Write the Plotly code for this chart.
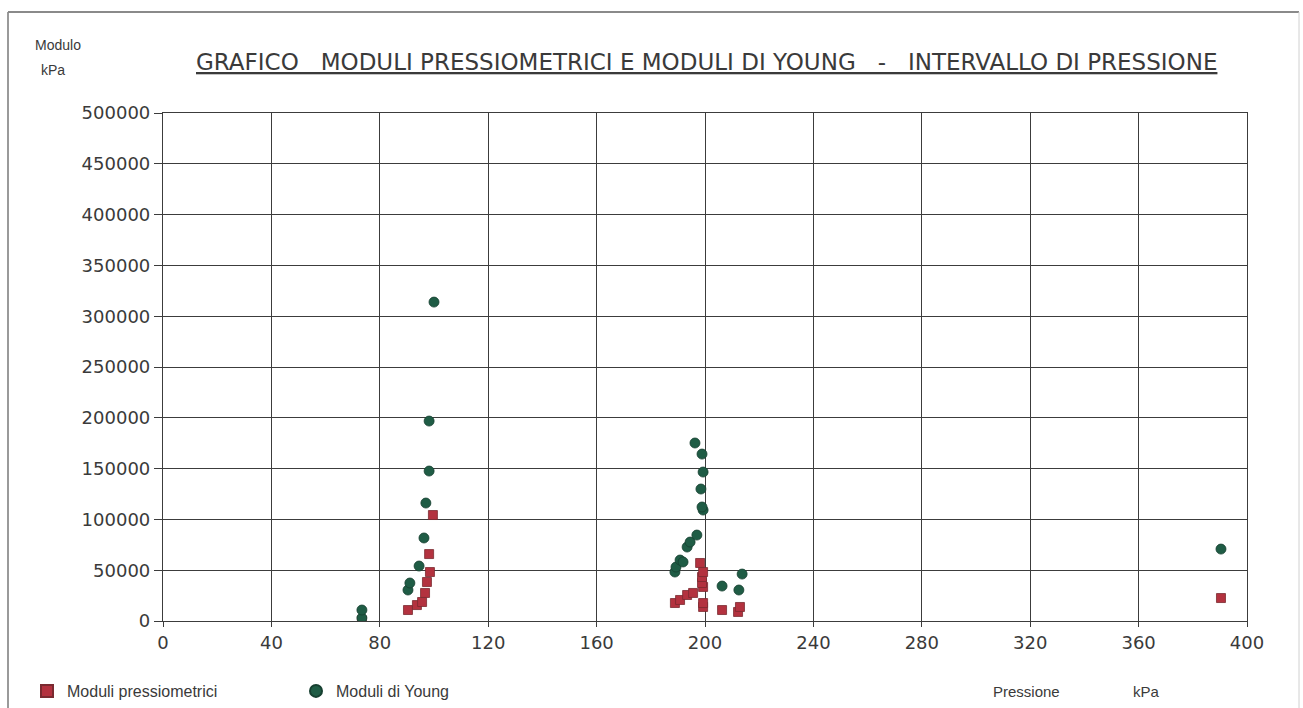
import plotly.graph_objects as go

# Moduli pressiometrici (red squares)
press_x = [73.4, 90.4, 93.7, 95.6, 96.7, 97.4, 98.5, 98.2, 99.6,
           188.9, 190.8, 193.4, 195.6, 199.3, 199.3, 199.3, 198.9, 198.9, 199.3, 198.2,
           206.3, 212.2, 212.9, 390.4]
press_y = [500, 10800, 15700, 18700, 27600, 38400, 48200, 65900, 104300,
           17700, 20700, 25600, 27600, 13800, 17700, 33500, 37400, 43300, 48200, 57100,
           10800, 8900, 13800, 22600]

# Moduli di Young (green circles)
young_x = [73.4, 73.4, 90.4, 91.1, 94.5, 96.3, 97.0, 98.2, 98.2, 100.0,
           188.9, 189.3, 190.8, 191.9, 193.4, 194.5, 197.0, 199.3, 198.9, 198.5, 199.3, 198.9, 196.3,
           206.3, 212.5, 213.7, 390.4]
young_y = [3000, 10800, 30500, 37400, 54100, 81700, 116100, 147600, 196800, 313900,
           48200, 53100, 60000, 58100, 72800, 77700, 84600, 109200, 112200, 129900, 146600, 164300, 175200,
           34400, 30500, 46200, 70800]

x_ticks = [0, 40, 80, 120, 160, 200, 240, 280, 320, 360, 400]
y_ticks = [0, 50000, 100000, 150000, 200000, 250000, 300000, 350000, 400000, 450000, 500000]

FONT = "Liberation Sans, Arial, sans-serif"
WIDE = "DejaVu Sans, Verdana, sans-serif"
TXT = "#3a3a3a"
GRID = "#3c3c3c"

fig = go.Figure()
fig.add_trace(go.Scatter(
    x=press_x, y=press_y, mode="markers", name="Moduli pressiometrici",
    marker=dict(symbol="square", size=9, color="#b3323f", line=dict(width=0.8, color="#7a2a30")),
))
fig.add_trace(go.Scatter(
    x=young_x, y=young_y, mode="markers", name="Moduli di Young",
    marker=dict(symbol="circle", size=10, color="#1f5c45", line=dict(width=0.8, color="#163f30")),
))

axis_common = dict(
    showgrid=True, gridcolor=GRID, gridwidth=1.2,
    showline=True, linecolor=GRID, linewidth=1.2, mirror=True,
    ticks="outside", tickcolor=GRID,
    tickfont=dict(family=WIDE, size=18, color=TXT), zeroline=False,
)
fig.update_xaxes(range=[0, 400], tickvals=x_ticks, ticktext=[str(v) for v in x_ticks],
                 ticklen=5, **axis_common)
fig.update_yaxes(range=[0, 500000], tickvals=y_ticks, ticktext=[str(v) for v in y_ticks],
                 ticklen=8, **axis_common)

W, H = 1303, 708
L, R, T, B = 163, 56, 113, 87
pw, ph = W - L - R, H - T - B

def px(xp):
    return (xp - L) / pw

def py(yp):
    return (H - B - yp) / ph

fig.update_layout(
    width=W, height=H,
    margin=dict(l=L, r=R, t=T, b=B, autoexpand=False),
    paper_bgcolor="white", plot_bgcolor="white",
    font=dict(family=FONT, color=TXT),
    showlegend=True,
    legend=dict(
        orientation="h", xref="container", yref="container",
        x=27 / W, y=1 - 691 / H, xanchor="left", yanchor="middle",
        font=dict(family=FONT, size=16, color=TXT),
        entrywidth=224, entrywidthmode="pixels",
        bgcolor="rgba(0,0,0,0)", itemsizing="constant",
    ),
    annotations=[
        dict(text="<u>GRAFICO\u00a0\u00a0\u00a0MODULI PRESSIOMETRICI E MODULI DI YOUNG\u00a0\u00a0\u00a0-\u00a0\u00a0\u00a0INTERVALLO DI PRESSIONE</u>",
             x=px(706), y=py(62), xref="paper", yref="paper", showarrow=False,
             xanchor="center", yanchor="middle", font=dict(family=WIDE, size=23, color="#3a3a3a")),
        dict(text="Modulo", x=px(58), y=py(45), xref="paper", yref="paper", showarrow=False,
             xanchor="center", yanchor="middle", font=dict(family=FONT, size=14, color=TXT)),
        dict(text="kPa", x=px(53), y=py(70), xref="paper", yref="paper", showarrow=False,
             xanchor="center", yanchor="middle", font=dict(family=FONT, size=14, color=TXT)),
        dict(text="Pressione", x=px(1026), y=py(691), xref="paper", yref="paper",
             showarrow=False, xanchor="center", yanchor="middle",
             font=dict(family=FONT, size=15, color=TXT)),
        dict(text="kPa", x=px(1146), y=py(691), xref="paper", yref="paper",
             showarrow=False, xanchor="center", yanchor="middle",
             font=dict(family=FONT, size=15, color=TXT)),
    ],
    shapes=[
        dict(type="line", xref="paper", yref="paper", x0=px(8), x1=px(8), y0=py(12), y1=py(708),
             line=dict(color="#9a9a9a", width=2)),
        dict(type="line", xref="paper", yref="paper", x0=px(8), x1=px(1299), y0=py(12), y1=py(12),
             line=dict(color="#8a8a8a", width=2)),
        dict(type="line", xref="paper", yref="paper", x0=px(1299), x1=px(1299), y0=py(12), y1=py(708),
             line=dict(color="#d0d0d0", width=1)),
    ],
)

fig.write_html("out.html", config={"displayModeBar": False},
               post_script="document.body.style.margin='0';document.body.style.overflow='hidden';")
